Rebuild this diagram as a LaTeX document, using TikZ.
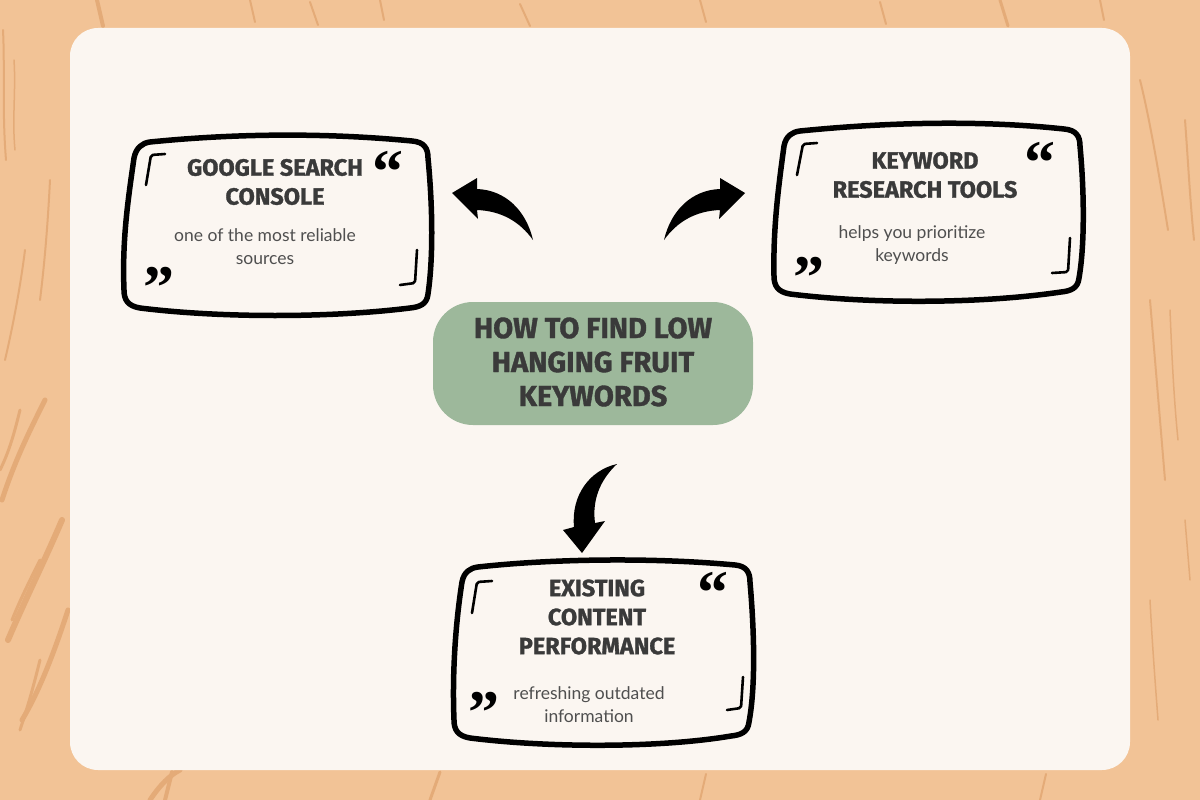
\documentclass[tikz,border=0pt]{standalone}
\usepackage{fontspec}
\setmainfont{Lato}
\newfontfamily\disp[FakeBold=1.2]{Fira Sans}
\newfontfamily\qfont{Liberation Serif}
\definecolor{bgtan}{HTML}{F2C396}
\definecolor{grain}{HTML}{E4AB78}
\definecolor{panel}{HTML}{FBF6F1}
\definecolor{pill}{HTML}{9DB89B}
\definecolor{ink}{HTML}{3A3A3A}
\definecolor{body}{HTML}{4F4F4F}
\begin{document}
\begin{tikzpicture}[x=1pt,y=-1pt,
  boxline/.style={draw=black,line width=5.5pt,line join=round},
  bracket/.style={draw=black,line width=2.6pt,line cap=round,line join=round,rounded corners=2pt},
  ttl/.style={text=ink,align=center,font=\disp\bfseries\fontsize{23.5}{29}\selectfont},
  bodytxt/.style={text=body,align=center,font=\fontsize{17.5}{23}\selectfont},
  quote/.style={text=black,font=\qfont\bfseries\fontsize{62}{62}\selectfont,inner sep=0pt,anchor=base},
  grainline/.style={draw=grain,line width=3pt,line cap=round}]
\useasboundingbox (0,0) rectangle (1200,800);
\fill[bgtan] (0,0) rectangle (1200,800);
% wood grain streaks (left)
\draw[grainline,line width=2pt] (3,30) .. controls (5,70) and (2,110) .. (6,160);
\draw[grainline,line width=1.5pt] (14,60) .. controls (16,90) and (12,120) .. (15,150);
\draw[grainline,line width=5pt] (45,400) .. controls (30,430) and (15,460) .. (2,500);
\draw[grainline,line width=3pt] (20,410) .. controls (15,430) and (10,450) .. (0,470);
\draw[grainline,line width=6pt] (62,520) .. controls (45,560) and (25,600) .. (8,640);
\draw[grainline,line width=3pt] (40,560) .. controls (30,580) and (20,600) .. (12,620);
\draw[grainline,line width=5pt] (68,610) .. controls (55,650) and (40,690) .. (22,720);
\draw[grainline,line width=3pt] (40,660) .. controls (35,680) and (30,700) .. (20,730);
\draw[grainline,line width=2pt] (25,250) .. controls (20,290) and (12,330) .. (5,360);
\draw[grainline,line width=2pt] (50,180) .. controls (48,220) and (45,260) .. (40,300);
% top
\draw[grainline,line width=4pt] (97,0) -- (103,26);
\draw[grainline,line width=2pt] (250,0) -- (255,22);
\draw[grainline,line width=2pt] (310,2) -- (318,25);
\draw[grainline,line width=2pt] (380,0) -- (384,20);
\draw[grainline,line width=2pt] (520,4) -- (530,26);
\draw[grainline,line width=2pt] (700,0) -- (706,22);
\draw[grainline,line width=2pt] (880,2) -- (886,24);
\draw[grainline,line width=3pt] (1000,0) -- (1008,26);
\draw[grainline,line width=2pt] (1100,0) -- (1104,20);
% right
\draw[grainline,line width=2pt] (1150,300) .. controls (1155,360) and (1160,420) .. (1165,480);
\draw[grainline,line width=1.5pt] (1170,310) .. controls (1172,360) and (1174,400) .. (1178,440);
\draw[grainline,line width=2pt] (1140,80) .. controls (1150,120) and (1160,180) .. (1168,230);
\draw[grainline,line width=2pt] (1185,120) .. controls (1188,160) and (1190,200) .. (1194,240);
\draw[grainline,line width=1.5pt] (1150,600) .. controls (1152,640) and (1155,680) .. (1158,720);
\draw[grainline,line width=1.5pt] (1185,520) -- (1190,580);
% bottom
\draw[grainline,line width=4pt] (165,800) -- (172,772);
\draw[grainline,line width=5pt] (150,800) .. controls (160,785) and (170,775) .. (180,770);
\draw[grainline,line width=3pt] (430,800) -- (440,772);
\draw[grainline,line width=2pt] (700,800) -- (706,774);
\draw[grainline,line width=2pt] (1040,800) -- (1046,774);
% panel
\fill[panel,rounded corners=28pt] (70,28) rectangle (1130,770);

% ---- box: Google Search Console
\draw[boxline] (150,142) .. controls (250,132) and (340,134) .. (412,141)
  .. controls (424,142) and (428,148) .. (428,158)
  .. controls (433,210) and (433,260) .. (428,294)
  .. controls (427,304) and (420,307) .. (410,308)
  .. controls (330,318) and (220,318) .. (140,308)
  .. controls (128,306) and (124,300) .. (124,290)
  .. controls (122,240) and (128,200) .. (134,158)
  .. controls (136,148) and (142,143) .. (150,142) -- cycle;
\draw[bracket] (165,154) -- (151,155) -- (146,185);
\draw[bracket] (417,250) -- (415,283) -- (400,285);
\node[quote] (q1a) at (388,192) {“};
\node[quote] (q1b) at (159,308) {”};
\node[ttl] (gsc) at (275,182) {GOOGLE SEARCH\\CONSOLE};
\node[bodytxt] (gscb) at (265,247) {one of the most reliable\\sources};

% ---- box: Keyword Research Tools
\draw[boxline] (800,131) .. controls (900,121) and (990,121) .. (1064,129)
  .. controls (1076,130) and (1080,136) .. (1080,146)
  .. controls (1085,200) and (1084,250) .. (1079,278)
  .. controls (1078,288) and (1071,291) .. (1061,292)
  .. controls (980,304) and (870,304) .. (790,294)
  .. controls (778,292) and (774,286) .. (774,276)
  .. controls (773,230) and (778,190) .. (784,146)
  .. controls (786,136) and (792,132) .. (800,131) -- cycle;
\draw[bracket] (817,143) -- (803,144) -- (797,175);
\draw[bracket] (1070,238) -- (1068,272) -- (1052,273);
\node[quote] (q2a) at (1040,183) {“};
\node[quote] (q2b) at (809,298) {”};
\node[ttl] (krt) at (925,175) {KEYWORD\\RESEARCH TOOLS};
\node[bodytxt] (krtb) at (912,245) {helps you prioritize\\keywords};

% ---- box: Existing Content Performance
\draw[boxline] (478,567) .. controls (560,558) and (660,558) .. (735,565)
  .. controls (746,566) and (750,572) .. (750,582)
  .. controls (755,640) and (755,690) .. (749,722)
  .. controls (748,732) and (741,735) .. (731,736)
  .. controls (660,748) and (550,748) .. (470,738)
  .. controls (458,736) and (454,730) .. (454,720)
  .. controls (452,670) and (456,620) .. (462,582)
  .. controls (464,572) and (470,568) .. (478,567) -- cycle;
\draw[bracket] (492,581) -- (477,582) -- (472,613);
\draw[bracket] (743,677) -- (741,708) -- (727,710);
\node[quote] (q3a) at (713,613) {“};
\node[quote] (q3b) at (484,733) {”};
\node[ttl] (ecp) at (597,617) {EXISTING\\CONTENT\\PERFORMANCE};
\node[bodytxt] (ecpb) at (589,705) {refreshing outdated\\information};

% ---- center pill
\fill[pill,rounded corners=40pt] (433,302) rectangle (753,425);
\node[text=ink,align=center,font=\disp\bfseries\fontsize{29}{34}\selectfont] (center) at (593,362) {HOW TO FIND LOW\\HANGING FRUIT\\KEYWORDS};

% ---- arrows
\fill[black] (452,193) -- (477,178) -- (477,189)
  .. controls (505,190) and (526,210) .. (533,240)
  .. controls (520,222) and (502,211) .. (477,210) -- (478,219) -- cycle;
\fill[black] (745,193) -- (720,178) -- (720,189)
  .. controls (692,190) and (671,210) .. (664,240)
  .. controls (677,222) and (695,211) .. (720,210) -- (719,219) -- cycle;
\fill[black] (582,553) -- (563,530) -- (574,527)
  .. controls (571,495) and (590,470) .. (617,464)
  .. controls (600,480) and (592,500) .. (595,523)
  -- (605,521) -- cycle;
\end{tikzpicture}
\end{document}
